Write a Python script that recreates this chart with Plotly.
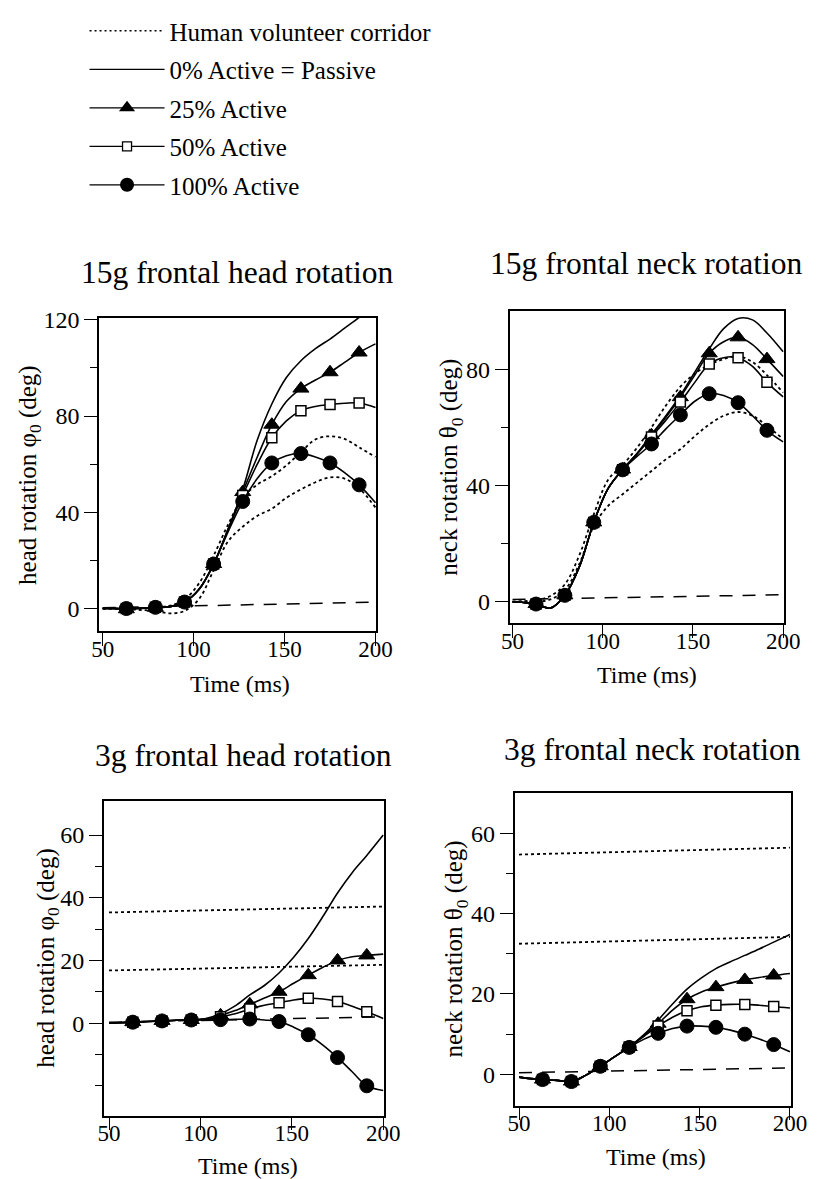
import plotly.graph_objects as go

# ---------------- data ----------------
T = [50, 55, 63, 71, 79, 87, 95, 103, 111, 119, 127, 135, 143, 151, 159, 167, 175, 183, 191, 200]
MARK_T = [63, 79, 95, 111, 127, 143, 159, 175, 191]
FLAT_T = [50, 200]

# 15g frontal head rotation
TL_passive = [0, 0, 0, 0.2, 0.5, 0.8, 2.7, 8, 18.5, 33, 49.5, 70, 85, 96, 103, 108, 112, 116.5, 121, 127]
TL_25 = [0, 0, -0.3, 0, 0.3, 0.8, 2.7, 8, 18.5, 33, 48.4, 63, 76.4, 86, 91.4, 95, 98.2, 102.3, 106.4, 110]
TL_50 = [0, 0, 0, 0.2, 0.5, 0.8, 2.7, 8, 18.5, 33, 47, 60, 71, 78, 82.2, 84, 84.8, 85.3, 85.4, 83.5]
TL_100 = [0, 0, 0, 0.2, 0.5, 0.8, 2.7, 8, 18.5, 32, 44.5, 54, 60.5, 63.5, 64.4, 63, 60.5, 56.5, 51.4, 44]
TL_hi = [0, 0, 0, 0.2, 0.5, 1.2, 3.8, 10.5, 22, 35, 46, 51.5, 55, 59.5, 65, 70.3, 71.6, 70.5, 67, 63]
TL_lo = [0, 0, -0.3, -0.6, -1, -2, -1, 4, 16, 28, 34, 38.5, 41.5, 46, 49.5, 52.5, 54.5, 54, 50, 42]
TL_ref = [0.3, 2.7]

# 15g frontal neck rotation
TR_passive = [0, -0.2, -0.8, -2.2, 2.2, 12, 27.3, 39, 45.5, 51, 57.5, 64, 71, 79, 87, 94, 97.5, 97, 92.5, 86]
TR_25 = [0, -0.2, -0.8, -2.2, 2.2, 12, 27.3, 39, 45.5, 51, 57.3, 63.5, 70.4, 78, 85.5, 89.5, 91, 88.5, 83.5, 77.5]
TR_50 = [0, -0.2, -0.8, -2.2, 2.2, 12, 27.3, 39, 45.4, 50.8, 56.7, 62.5, 68.7, 75.5, 81.8, 84, 84, 81, 75.5, 70.5]
TR_100 = [0, -0.2, -0.8, -2.2, 2.2, 12, 27.3, 39, 45.4, 50, 54.3, 59.5, 64.3, 69, 71.6, 71, 68.5, 64, 59, 55]
TR_hi = [0, 0.2, 0.5, 2, 6, 16, 30, 42, 47, 53, 60, 67.5, 74, 78.5, 81.5, 83.5, 84.5, 82.5, 78, 72]
TR_lo = [0, 0, 0, 0.8, 4, 13, 26, 33, 37, 41, 45, 49, 52.5, 57, 61, 64, 65.3, 64, 60.5, 56]
TR_ref = [0.8, 2.4]

# 3g frontal head rotation
BL_passive = [0, 0.1, 0.3, 0.5, 0.7, 0.9, 1, 1.5, 3, 5.5, 9, 12, 16, 21, 27, 34, 41.5, 48, 53.5, 60]
BL_25 = [0, 0.1, 0.3, 0.5, 0.7, 0.9, 1, 1.4, 2.5, 4, 6, 8, 10, 12.7, 15.3, 17.8, 20, 21.2, 21.6, 22]
BL_50 = [0, 0.1, 0.3, 0.5, 0.7, 0.9, 1, 1.2, 2, 3, 4.5, 5.7, 6.5, 7.4, 7.9, 7.7, 6.9, 5.4, 3.6, 1.5]
BL_100 = [0, 0.1, 0.3, 0.5, 0.7, 0.9, 1, 1.1, 1.1, 1.2, 1.3, 1.0, 0.5, -1.3, -3.7, -7, -11, -15.5, -20, -21.5]
BL_hi = [35.3, 37.2]
BL_lo = [16.8, 18.6]
BL_ref = [0.3, 2.0]

# 3g frontal neck rotation
BR_passive = [-0.7, -1, -1.3, -1.5, -1.8, -0.2, 2, 4.4, 6.8, 9.8, 13.5, 17.5, 21.2, 24, 26.3, 28, 29.6, 31.2, 32.9, 34.8]
BR_25 = [-0.7, -1, -1.3, -1.5, -1.8, -0.2, 2, 4.4, 6.8, 9.6, 12.6, 16, 18.7, 20.5, 21.7, 22.7, 23.5, 24.1, 24.6, 25.1]
BR_50 = [-0.7, -1, -1.3, -1.5, -1.8, -0.2, 2, 4.4, 6.8, 9.4, 12, 14.2, 15.8, 16.8, 17.2, 17.4, 17.4, 17.2, 16.9, 16.5]
BR_100 = [-0.7, -1, -1.3, -1.5, -1.8, -0.2, 2, 4.4, 6.7, 8.7, 10.2, 11.4, 12, 12, 11.7, 11, 10, 8.8, 7.4, 5.6]
BR_hi = [54.7, 56.4]
BR_lo = [32.5, 34.2]
BR_ref = [0.4, 1.6]

TITLES = ["15g frontal head rotation", "15g frontal neck rotation",
          "3g frontal head rotation", "3g frontal neck rotation"]
YTITLES = ["head rotation φ<sub>0</sub> (deg)", "neck rotation θ<sub>0</sub> (deg)",
           "head rotation φ<sub>0</sub> (deg)", "neck rotation θ<sub>0</sub> (deg)"]
XTITLE = "Time (ms)"
XTICKS = [50, 100, 150, 200]
LEGEND_NAMES = ["Human volunteer corridor", "0% Active = Passive", "25% Active",
                "50% Active", "100% Active"]

# ---------------- layout helpers ----------------
W, H = 823, 1179
FONT = "Liberation Serif"

panels = [
    dict(box=(93, 310, 379, 626), xr=[48, 200.3], yr=[-9.4, 120.7],
         ymaj=[0, 40, 80, 120], ymin=[20, 60, 100], tpos=264, ytx=21, xty=679, xtx=239,
         passive=TL_passive, a25=TL_25, a50=TL_50, a100=TL_100,
         corr=[(T, TL_hi), (T, TL_lo)], ref=TL_ref),
    dict(box=(517, 303, 800, 618), xr=[48.4, 200.3], yr=[-7.4, 100],
         ymaj=[0, 40, 80], ymin=[20, 60], tpos=255, ytx=456, xty=670, xtx=659,
         passive=TR_passive, a25=TR_25, a50=TR_50, a100=TR_100,
         corr=[(T, TR_hi), (T, TR_lo)], ref=TR_ref),
    dict(box=(98, 797, 387, 1115), xr=[47.2, 200.3], yr=[-29.5, 71],
         ymaj=[0, 20, 40, 60], ymin=[-20, -10, 10, 30, 50], tpos=752, ytx=39, xty=1166, xtx=247,
         passive=BL_passive, a25=BL_25, a50=BL_50, a100=BL_100,
         corr=[(FLAT_T, BL_hi), (FLAT_T, BL_lo)], ref=BL_ref),
    dict(box=(522, 789, 807, 1105), xr=[47.5, 200.3], yr=[-7.8, 70.1],
         ymaj=[0, 20, 40, 60], ymin=[10, 30, 50], tpos=745, ytx=461, xty=1157, xtx=668,
         passive=BR_passive, a25=BR_25, a50=BR_50, a100=BR_100,
         corr=[(FLAT_T, BR_hi), (FLAT_T, BR_lo)], ref=BR_ref),
]

LW = 1.6
DOT = "3px,3px"
SYM = {"a25": ("triangle-up", 14, "black", 1), "a50": ("square", 10, "white", 1.5),
       "a100": ("circle", 14, "black", 1)}

fig = go.Figure()

def marks(arr):
    return [v for t, v in zip(T, arr) if t in MARK_T]

annotations = []
layout_axes = {}
for i, p in enumerate(panels):
    n = "" if i == 0 else str(i + 1)
    xa, ya = "x" + n, "y" + n
    x0, y0, x1, y1 = p["box"]
    for tx, ty in p["corr"]:
        fig.add_trace(go.Scatter(x=tx, y=ty, mode="lines", xaxis=xa, yaxis=ya, showlegend=False,
                                 line=dict(color="black", width=1.8, dash=DOT, shape="spline")))
    fig.add_trace(go.Scatter(x=FLAT_T, y=p["ref"], mode="lines", xaxis=xa, yaxis=ya, showlegend=False,
                             line=dict(color="black", width=1.5, dash="13px,10px")))
    fig.add_trace(go.Scatter(x=T, y=p["passive"], mode="lines", xaxis=xa, yaxis=ya, showlegend=False,
                             line=dict(color="black", width=LW, shape="spline")))
    for key in ["a25", "a50", "a100"]:
        fig.add_trace(go.Scatter(x=T, y=p[key], mode="lines", xaxis=xa, yaxis=ya, showlegend=False,
                                 line=dict(color="black", width=LW, shape="spline")))
        s, sz, c, lw = SYM[key]
        fig.add_trace(go.Scatter(x=MARK_T, y=marks(p[key]), mode="markers", xaxis=xa, yaxis=ya,
                                 showlegend=False, cliponaxis=False,
                                 marker=dict(symbol=s, size=sz, color=c,
                                             line=dict(color="black", width=lw))))
    layout_axes["xaxis" + n] = dict(
        domain=[x0 / W, x1 / W], range=p["xr"], anchor=ya,
        tickmode="array", tickvals=XTICKS, ticks="outside", ticklen=13, tickwidth=1.3,
        tickcolor="black", showline=True, mirror=True, linecolor="black", linewidth=1.5,
        showgrid=False, zeroline=False, tickfont=dict(size=23, color="black", family=FONT),
        ticklabelstandoff=-17)
    layout_axes["yaxis" + n] = dict(
        domain=[1 - y1 / H, 1 - y0 / H], range=p["yr"], anchor=xa,
        tickmode="array", tickvals=p["ymaj"], ticks="outside", ticklen=13, tickwidth=1.3,
        tickcolor="black", showline=True, mirror=True, linecolor="black", linewidth=1.5,
        showgrid=False, zeroline=False, tickfont=dict(size=24, color="black", family=FONT),
        minor=dict(tickmode="array", tickvals=p["ymin"], ticks="outside", ticklen=7,
                   tickwidth=1.3, tickcolor="black", showgrid=False))
    annotations.append(dict(text=TITLES[i], xref="paper", yref="paper",
                            x=(x0 + x1) / 2 / W, y=1 - p["tpos"] / H, xanchor="center",
                            yanchor="middle", showarrow=False,
                            font=dict(size=31.5, color="black", family=FONT)))
    annotations.append(dict(text=YTITLES[i], xref="paper", yref="paper", textangle=-90,
                            x=p["ytx"] / W, y=1 - (y0 + y1) / 2 / H, xanchor="center",
                            yanchor="middle", showarrow=False,
                            font=dict(size=25, color="black", family=FONT)))
    annotations.append(dict(text=XTITLE, xref="paper", yref="paper",
                            x=p["xtx"] / W, y=1 - p["xty"] / H, xanchor="center",
                            yanchor="middle", showarrow=False,
                            font=dict(size=24, color="black", family=FONT)))

leg_styles = [
    dict(mode="lines", line=dict(color="black", width=1.5, dash="2px,3px")),
    dict(mode="lines", line=dict(color="black", width=1.3)),
    dict(mode="lines+markers", line=dict(color="black", width=1.3),
         marker=dict(symbol="triangle-up", size=14, color="black")),
    dict(mode="lines+markers", line=dict(color="black", width=1.3),
         marker=dict(symbol="square", size=9, color="white", line=dict(width=1.3, color="black"))),
    dict(mode="lines+markers", line=dict(color="black", width=1.3),
         marker=dict(symbol="circle", size=14, color="black")),
]
for name, st in zip(LEGEND_NAMES, leg_styles):
    fig.add_trace(go.Scatter(x=[None], y=[None], name=name, showlegend=True,
                             legendgroup=name, **st))

fig.update_layout(
    width=W, height=H, margin=dict(l=0, r=0, t=0, b=0),
    paper_bgcolor="white", plot_bgcolor="white",
    font=dict(family=FONT, color="black", size=24),
    showlegend=True,
    legend=dict(x=78 / W, y=1 + 3 / H, xanchor="left", yanchor="top",
                font=dict(size=25, color="black", family=FONT),
                itemwidth=75, tracegroupgap=3, bgcolor="rgba(0,0,0,0)"),
    annotations=annotations,
    **layout_axes,
)

fig.write_html("out.html")
